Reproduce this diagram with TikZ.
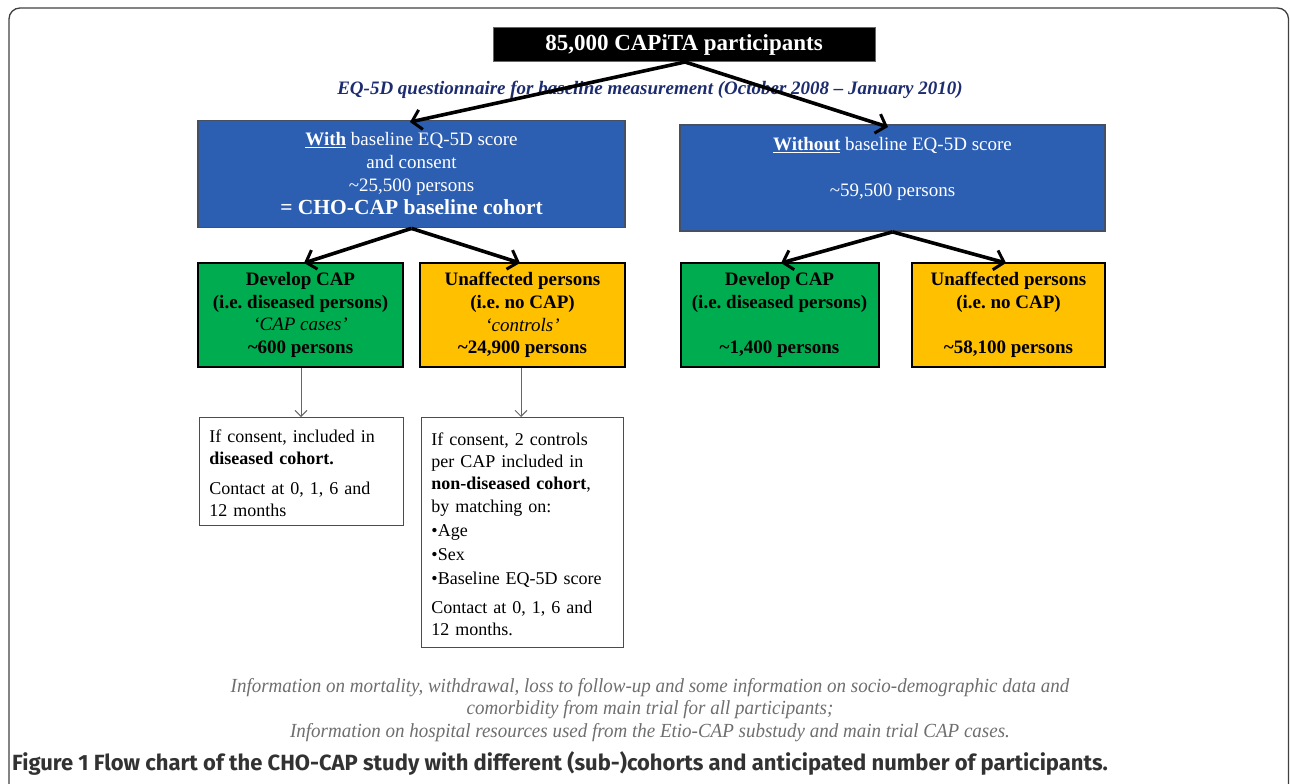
\documentclass[tikz,border=0pt]{standalone}
\usepackage{fontspec}
\setmainfont{Liberation Serif}
\newfontfamily\capfont{Fira Sans}
\newfontfamily\narrowital[FakeStretch=0.95]{Liberation Serif}
\usetikzlibrary{arrows.meta}
\definecolor{boxblue}{RGB}{44,94,178}
\definecolor{bluebd}{RGB}{70,80,100}
\definecolor{cgreen}{RGB}{0,172,80}
\definecolor{cyellow}{RGB}{255,192,0}
\definecolor{navy}{RGB}{28,44,110}
\definecolor{infogray}{RGB}{110,110,110}
\definecolor{capgray}{RGB}{50,50,50}
\frenchspacing
\tikzset{
  bluebox/.style={draw=bluebd,line width=1.8pt,fill=boxblue,text=white,align=center,inner sep=0pt,
    font=\fontsize{19}{23}\selectfont},
  catbox/.style={draw=black,line width=2pt,align=center,inner sep=0pt,
    font=\fontsize{19}{22.7}\selectfont\bfseries},
  notebox/.style={draw=black!70,line width=0.9pt,fill=white,align=left,inner sep=0pt,anchor=north west,
    font=\fontsize{18}{22.3}\selectfont},
  bigarrow/.style={line width=3.6pt,-{Straight Barb[length=9pt,width=20pt,line width=3pt]}},
  thinarrow/.style={line width=0.9pt,draw=black!60,-{Straight Barb[length=6pt,width=12pt,line width=0.9pt]}}
}
\begin{document}
\begin{tikzpicture}[x=1pt,y=-1pt]
\useasboundingbox (0,0) rectangle (1290,784);
\begin{scope}
\clip (0,0) rectangle (1290,784);
\draw[rounded corners=11pt,line width=1.3pt,draw=black!75] (9,8) rectangle (1288.5,795);
\end{scope}

% top box
\node[draw=black!60,line width=1pt,fill=black,text=white,minimum width=382pt,minimum height=34pt,inner sep=0pt,
  font=\fontsize{23}{24}\selectfont\bfseries] (top) at (684,45) {85,000 CAPiTA participants};

\node[text=navy,font=\fontsize{19}{20}\selectfont\bfseries\itshape,inner sep=0pt] (eq) at (650,90)
  {EQ-5D questionnaire for baseline measurement (October 2008 -- January 2010)};

% blue boxes
\node[bluebox,minimum width=427pt,minimum height=107pt] (lb) at (411.5,174)
  {\underline{\textbf{With}} baseline EQ-5D score\\ and consent\\ \textasciitilde 25,500 persons\\
   {\fontsize{21.5}{23}\selectfont\bfseries = CHO-CAP baseline cohort}};
\node[bluebox,minimum width=425pt,minimum height=106pt] (rb) at (892.5,178)
  {\underline{\textbf{Without}} baseline EQ-5D score\\ \mbox{}\\ \textasciitilde 59,500 persons\\ \mbox{}};

% category boxes
\node[catbox,fill=cgreen,minimum width=205pt,minimum height=104pt] (lg) at (300.5,315)
  {Develop CAP\\ (i.e. diseased persons)\\ {\mdseries\itshape `CAP cases'}\\ \textasciitilde 600 persons};
\node[catbox,fill=cyellow,minimum width=205pt,minimum height=104pt] (ly) at (522.5,315)
  {Unaffected persons\\ (i.e. no CAP)\\ {\mdseries\itshape `controls'}\\ \textasciitilde 24,900 persons};
\node[catbox,fill=cgreen,minimum width=198pt,minimum height=104pt] (rg) at (779.5,315)
  {Develop CAP\\ (i.e. diseased persons)\\ \mbox{}\\ \textasciitilde 1,400 persons};
\node[catbox,fill=cyellow,minimum width=193pt,minimum height=104pt] (ry) at (1008.5,315)
  {Unaffected persons\\ (i.e. no CAP)\\ \mbox{}\\ \textasciitilde 58,100 persons};

% note boxes
\node[notebox,minimum width=204pt,minimum height=108pt,text width=204pt] (ln) at (199,417)
  {\hspace*{10pt}\rule{0pt}{16pt}If consent, included in\\ \hspace*{10pt}\textbf{diseased cohort.}\\[7pt]
   \hspace*{10pt}Contact at 0, 1, 6 and\\ \hspace*{10pt}12 months};
\node[notebox,minimum width=202pt,minimum height=230pt,text width=202pt] (rn) at (421,417)
  {\hspace*{10pt}\rule{0pt}{16pt}If consent, 2 controls\\ \hspace*{10pt}per CAP included in\\
   \hspace*{10pt}\textbf{non-diseased cohort},\\ \hspace*{10pt}by matching on:\\[2pt]
   \hspace*{10pt}\textbullet Age\\[2pt] \hspace*{10pt}\textbullet Sex\\[2pt]
   \hspace*{10pt}\textbullet Baseline EQ-5D score\\[6pt]
   \hspace*{10pt}Contact at 0, 1, 6 and\\ \hspace*{10pt}12 months.};

% arrows
\coordinate (topb) at (685,62);
\draw[bigarrow] (topb) -- (410,122);
\draw[bigarrow] (topb) -- (888,127);
\draw[bigarrow] (lb.south) -- (304,263);
\draw[bigarrow] (lb.south) -- (520,263);
\draw[bigarrow] (rb.south) -- (781,263);
\draw[bigarrow] (rb.south) -- (1006,263);
\draw[thinarrow] (lg.south -| 301,0) -- (ln.north -| 301,0);
\draw[thinarrow] (ly.south -| 521,0) -- (rn.north -| 521,0);

% bottom info
\node[text=infogray,align=center,inner sep=0pt,font=\narrowital\fontsize{20}{22.5}\selectfont\itshape] (info) at (650,710)
  {Information on mortality, withdrawal, loss to follow-up and some information on socio-demographic data and\\
   comorbidity from main trial for all participants;\\
   Information on hospital resources used from the Etio-CAP substudy and main trial CAP cases.};

\node[anchor=west,text=capgray,inner sep=0pt,font=\capfont\fontsize{22}{24}\selectfont\bfseries] (cap) at (12,763)
  {Figure 1 Flow chart of the CHO-CAP study with different (sub-)cohorts and anticipated number of participants.};
\end{tikzpicture}
\end{document}
